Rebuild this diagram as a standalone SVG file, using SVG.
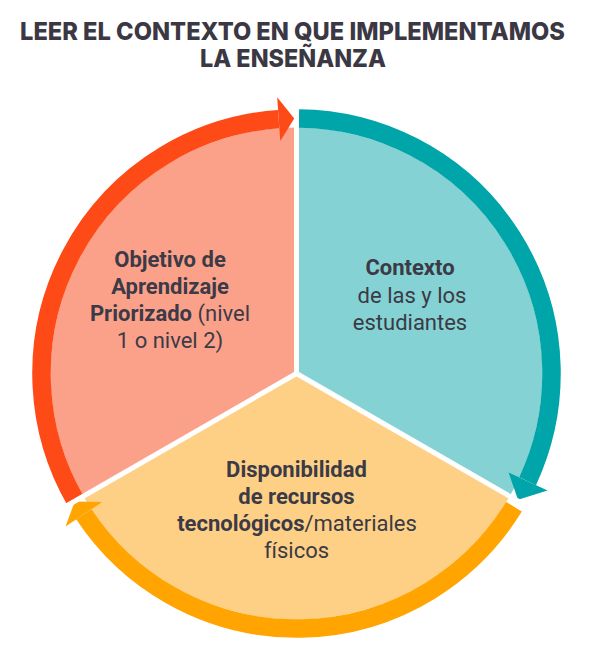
<svg xmlns="http://www.w3.org/2000/svg" width="600" height="662" viewBox="0 0 600 662">
<style>
.title{font-family:Inter,"Open Sans","DejaVu Sans",sans-serif;font-weight:800;font-size:25px;fill:#3b3844;text-anchor:middle}
.lbl{font-family:Roboto,"Liberation Sans",sans-serif;font-size:22px;fill:#3b3a46;text-anchor:middle}
.b{font-weight:700}
.ring{fill:none;stroke-width:18.5;stroke-linecap:butt}
.div{stroke:#ffffff;stroke-width:5;stroke-linecap:butt}
</style>
<rect width="600" height="662" fill="#ffffff"/>
<g id="title">
<text class="title" x="292.5" y="40" textLength="545" lengthAdjust="spacingAndGlyphs">LEER EL CONTEXTO EN QUE IMPLEMENTAMOS</text>
<text class="title" x="293" y="67" textLength="186" lengthAdjust="spacingAndGlyphs">LA ENSEÑANZA</text>
</g>
<g id="sector-objetivo">
<path d="M296.5,373.5 L83.46,496.5 A246,246 0 0 1 296.5,127.5 Z" fill="#fba18a"/>
<text class="lbl"><tspan class="b" x="170" y="267">Objetivo de</tspan><tspan class="b" x="170" y="294">Aprendizaje</tspan><tspan x="170" y="321"><tspan class="b">Priorizado</tspan> (nivel</tspan><tspan x="170" y="348">1 o nivel 2)</tspan></text>
</g>
<g id="sector-contexto">
<path d="M296.5,373.5 L296.5,127.5 A246,246 0 0 1 509.54,496.5 Z" fill="#84d2d3"/>
<text class="lbl"><tspan class="b" x="410" y="275">Contexto</tspan><tspan x="412" y="303">de las y los</tspan><tspan x="410" y="330">estudiantes</tspan></text>
</g>
<g id="sector-recursos">
<path d="M296.5,373.5 L509.54,496.5 A246,246 0 0 1 83.46,496.5 Z" fill="#fed085"/>
<text class="lbl"><tspan class="b" x="296.5" y="477">Disponibilidad</tspan><tspan class="b" x="296.5" y="504">de recursos</tspan><tspan x="297" y="531"><tspan class="b">tecnológicos</tspan>/materiales</tspan><tspan x="296.5" y="558">físicos</tspan></text>
</g>
<g id="connectors">
<path class="ring" stroke="#fe4a17" d="M75.66,501 A255,255 0 0 1 278.71,119.12"/>
<polygon fill="#fe4a17" points="280.25,141.07 277.18,97.18 294.27,118.51"/>
<path class="ring" stroke="#00a5aa" d="M298.99,118.51 A255,255 0 0 1 527.61,481.27"/>
<polygon fill="#00a5aa" points="508.58,472.39 547.55,490.57 518,499.84"/>
<path class="ring" stroke="#ffa400" d="M513.92,506.74 A255,255 0 0 1 83.86,514.24"/>
<polygon fill="#ffa400" points="102.2,502.1 65.51,526.39 74.8,501.5"/>
<line class="div" x1="296.5" y1="373.5" x2="296.5" y2="95"/>
<line class="div" x1="296.5" y1="373.5" x2="537" y2="512"/>
<line class="div" x1="296.5" y1="373.5" x2="56" y2="512"/>
</g>
</svg>
